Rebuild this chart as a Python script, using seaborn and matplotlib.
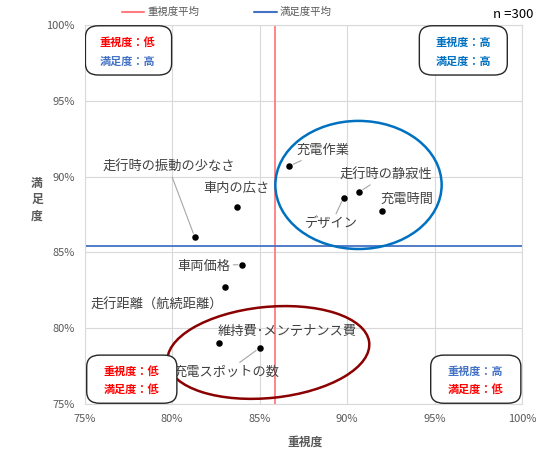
import numpy as np
import pandas as pd
import matplotlib
matplotlib.use("Agg")
import matplotlib.pyplot as plt
import seaborn as sns
from matplotlib.patches import Ellipse, FancyBboxPatch
from matplotlib.lines import Line2D

# data (percent)
items = ["走行時の振動の少なさ", "車内の広さ", "車両価格", "走行距離（航続距離）",
         "充電作業", "デザイン", "走行時の静寂性", "充電時間",
         "維持費･メンテナンス費", "充電スポットの数"]
importance = [81.3, 83.7, 84.0, 83.0, 86.7, 89.8, 90.7, 92.0, 82.7, 85.0]
satisfaction = [86.0, 88.0, 84.2, 82.7, 90.7, 88.6, 89.0, 87.7, 79.0, 78.7]
# where each label sits, and whether a leader line is drawn
label_x = [79.8, 83.7, 81.8, 79.1, 88.6, 89.1, 92.2, 93.4, 86.6, 83.1]
label_y = [90.6, 89.2, 84.1, 81.5, 91.7, 86.9, 90.1, 88.5, 79.8, 77.1]
leader = [True, False, True, False, True, True, True, False, False, True]

importance_avg = 85.87
satisfaction_avg = 85.45

df = pd.DataFrame({"item": items, "imp": importance, "sat": satisfaction})

sns.set_style("white")
plt.rcParams["font.family"] = ["Noto Sans CJK JP", "DejaVu Sans"]

fig = plt.figure(figsize=(5.36, 4.49), dpi=100)
ax = fig.add_axes([0.1577, 0.1002, 0.8165, 0.8441])

ax.grid(True, color="#D9D9D9", linewidth=0.8)
ax.set_axisbelow(True)
for s in ax.spines.values():
    s.set_color("#D9D9D9")
    s.set_linewidth(0.8)

ax.axvline(importance_avg, color="#FF7C80", linewidth=1.3, zorder=1)
ax.axhline(satisfaction_avg, color="#4472C4", linewidth=1.3, zorder=1)

sns.scatterplot(data=df, x="imp", y="sat", color="black", s=22, edgecolor="black",
                linewidth=0, ax=ax, zorder=4, legend=False)

for name, x, y, lx, ly, ld in zip(items, importance, satisfaction, label_x, label_y, leader):
    props = dict(arrowstyle="-", color="#A6A6A6", lw=0.8, shrinkA=0, shrinkB=3) if ld else None
    ax.annotate(name, xy=(x, y), xytext=(lx, ly), ha="center", va="center",
                fontsize=9.5, color="#404040", arrowprops=props, zorder=5)

# circled groups
ax.add_patch(Ellipse((90.65, 89.45), 9.5, 8.45, angle=0, fill=False,
                     edgecolor="#0070C0", linewidth=1.8, zorder=3))
ax.add_patch(Ellipse((85.5, 78.4), 11.6, 6.0, angle=7, fill=False,
                     edgecolor="#8B0000", linewidth=1.8, zorder=3))

ax.set_xlim(75, 100)
ax.set_ylim(75, 100)
ax.set_xticks(np.arange(75, 101, 5))
ax.set_yticks(np.arange(75, 101, 5))
ax.set_xticklabels([f"{v}%" for v in range(75, 101, 5)])
ax.set_yticklabels([f"{v}%" for v in range(75, 101, 5)])
ax.tick_params(labelsize=8, colors="#595959", length=0, pad=7)
ax.set_xlabel("")
ax.set_ylabel("")

fig.text(0.569, 0.015, "重視度", ha="center", va="center", fontsize=8.5,
         fontweight="bold", color="#595959")
fig.text(0.069, 0.555, "満\n足\n度", ha="center", va="center", fontsize=8.5,
         fontweight="bold", color="#595959", linespacing=1.3)

red = "#FF0000"
boxes = [
    ((0.002, 0.868), 0.197, 0.13, 0.098, [("重視度：低", red), ("満足度：高", "#4472C4")]),
    ((0.765, 0.868), 0.201, 0.13, 0.865, [("重視度：高", "#0070C0"), ("満足度：高", "#0070C0")]),
    ((0.005, 0.002), 0.206, 0.127, 0.108, [("重視度：低", red), ("満足度：低", red)]),
    ((0.791, 0.002), 0.206, 0.127, 0.893, [("重視度：高", "#4472C4"), ("満足度：低", red)]),
]
for (bx, by), w, h, tx, lines in boxes:
    ax.add_patch(FancyBboxPatch((bx, by), w, h, transform=ax.transAxes,
                                boxstyle="round,pad=0,rounding_size=0.03",
                                facecolor="white", edgecolor="#262626", linewidth=1.0, zorder=6))
    ys = [by + h * 0.66, by + h * 0.28]
    for (t, c), ty in zip(lines, ys):
        ax.text(tx, ty, t, transform=ax.transAxes, ha="center", va="center",
                fontsize=8, fontweight="bold", color=c, zorder=7)

handles = [Line2D([], [], color="#FF7C80", lw=1.5), Line2D([], [], color="#4472C4", lw=1.5)]
fig.legend(handles, ["重視度平均", "満足度平均"], loc="center", bbox_to_anchor=(0.4226, 0.973),
           ncol=2, frameon=False, fontsize=7.5, labelcolor="#595959",
           handlelength=2.2, columnspacing=5.2, handletextpad=0.3)

fig.text(0.995, 0.967, "n =300", ha="right", va="center", fontsize=9.5, color="black")

fig.savefig("out.png", dpi=100)
